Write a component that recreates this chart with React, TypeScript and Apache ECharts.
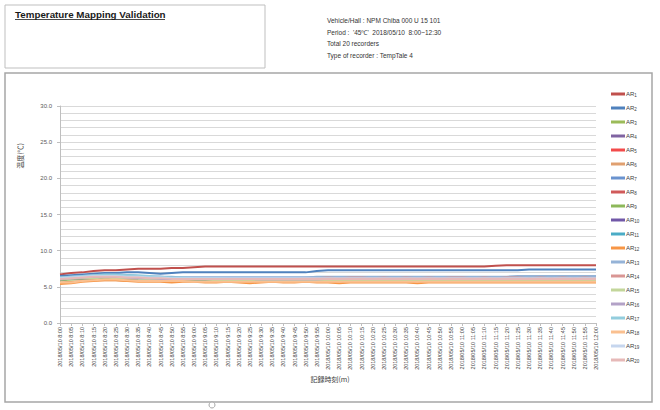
import React, { useEffect, useRef } from "react";
import * as echarts from "echarts";

const TIMES = [
  "8:00","8:05","8:10","8:15","8:20","8:25","8:30","8:35","8:40","8:45","8:50","8:55",
  "9:00","9:05","9:10","9:15","9:20","9:25","9:30","9:35","9:40","9:45","9:50","9:55",
  "10:00","10:05","10:10","10:15","10:20","10:25","10:30","10:35","10:40","10:45","10:50","10:55",
  "11:00","11:05","11:10","11:15","11:20","11:25","11:30","11:35","11:40","11:45","11:50","11:55",
  "12:00",
];
const DATE = "2018/05/10";
const CATEGORIES = TIMES.map((t) => `${DATE} ${t}`);

const AR1 = [6.7,6.9,7.0,7.2,7.3,7.3,7.4,7.5,7.5,7.5, 7.6,7.6,7.7,7.8,7.8,7.8,7.8,7.8,7.8,7.8, 7.8,7.8,7.8,7.8,7.8,7.8,7.8,7.8,7.8,7.8, 7.8,7.8,7.8,7.8,7.8,7.8,7.8,7.8,7.8,7.9, 8.0,8.0,8.0,8.0,8.0,8.0,8.0,8.0,8.0];
const AR2 = [6.5,6.6,6.7,6.8,6.9,6.9,7.0,7.0,6.9,6.8, 6.9,7.0,7.0,7.0,7.0,7.0,7.0,7.0,7.0,7.0, 7.0,7.0,7.0,7.2,7.3,7.3,7.3,7.3,7.3,7.3, 7.3,7.3,7.3,7.3,7.3,7.3,7.3,7.3,7.3,7.3, 7.3,7.3,7.4,7.4,7.4,7.4,7.4,7.4,7.4];
const AR3 = [6.1,6.2,6.3,6.3,6.4,6.4,6.3,6.3,6.2,6.2, 6.1,6.1,6.1,6.0,6.0,6.0,6.0,5.9,5.9,6.0, 6.0,6.0,5.9,5.9,6.0,6.0,6.0,6.0,6.0,6.0, 6.0,6.0,6.0,6.0,6.0,6.0,6.0,6.0,6.0,6.0, 6.0,6.0,6.0,6.0,6.0,6.0,6.0,6.0,6.0];
const AR4 = [6.0,6.1,6.2,6.3,6.3,6.3,6.2,6.2,6.1,6.1, 6.1,6.1,6.0,6.0,6.0,6.0,6.0,6.0,6.0,6.0, 6.0,6.1,6.1,6.1,6.1,6.1,6.1,6.1,6.1,6.1, 6.1,6.1,6.1,6.1,6.1,6.1,6.1,6.1,6.1,6.1, 6.1,6.1,6.1,6.1,6.1,6.1,6.1,6.1,6.1];
const AR5 = [6.2,6.3,6.4,6.5,6.5,6.5,6.4,6.3,6.3,6.2, 6.2,6.1,6.1,6.1,6.1,6.0,6.0,6.0,6.0,6.0, 6.0,6.0,6.0,6.0,6.0,6.0,6.0,6.0,6.0,6.0, 6.0,6.0,6.0,6.0,6.0,6.0,6.0,6.0,6.0,6.0, 6.0,6.0,6.0,6.0,6.0,6.0,6.0,6.0,6.0];
const AR6 = [5.6,5.7,5.8,5.9,5.9,5.9,5.8,5.8,5.8,5.8, 5.8,5.8,5.8,5.7,5.7,5.8,5.8,5.7,5.7,5.8, 5.8,5.8,5.8,5.8,5.8,5.8,5.8,5.8,5.8,5.8, 5.8,5.8,5.8,5.8,5.8,5.8,5.8,5.8,5.8,5.8, 5.8,5.8,5.8,5.8,5.8,5.8,5.8,5.8,5.8];
const AR7 = [6.3,6.4,6.5,6.6,6.7,6.7,6.6,6.5,6.4,6.4, 6.3,6.3,6.3,6.3,6.3,6.3,6.3,6.3,6.3,6.3, 6.3,6.3,6.3,6.3,6.3,6.3,6.3,6.3,6.3,6.3, 6.3,6.3,6.3,6.3,6.3,6.3,6.3,6.3,6.3,6.3, 6.3,6.3,6.3,6.3,6.3,6.3,6.3,6.3,6.3];
const AR8 = [6.0,6.1,6.2,6.2,6.2,6.2,6.1,6.1,6.1,6.0, 6.0,6.0,6.0,6.0,6.0,6.0,6.1,6.1,6.1,6.1, 6.2,6.2,6.2,6.3,6.2,6.3,6.2,6.2,6.3,6.2, 6.3,6.2,6.3,6.3,6.2,6.3,6.2,6.3,6.3,6.2, 6.3,6.2,6.3,6.2,6.3,6.3,6.2,6.3,6.3];
const AR9 = [5.9,6.0,6.1,6.2,6.2,6.2,6.1,6.0,6.0,6.0, 5.9,5.9,5.9,5.9,5.9,5.9,5.9,5.9,5.9,5.9, 5.9,5.9,5.9,5.9,5.9,5.9,5.9,5.9,5.9,5.9, 5.9,5.9,5.9,5.9,5.9,5.9,5.9,5.9,5.9,5.9, 5.9,5.9,5.9,5.9,5.9,5.9,5.9,5.9,5.9];
const AR10 = [6.0,6.1,6.2,6.2,6.3,6.3,6.2,6.1,6.1,6.1, 6.0,6.0,6.0,6.0,6.0,6.0,6.0,6.0,6.0,6.0, 6.0,6.0,6.0,6.0,6.0,6.0,6.0,6.0,6.0,6.0, 6.0,6.0,6.0,6.0,6.0,6.0,6.0,6.0,6.0,6.0, 6.0,6.0,6.0,6.0,6.0,6.0,6.0,6.0,6.0];
const AR11 = [6.2,6.3,6.4,6.5,6.6,6.6,6.6,6.5,6.4,6.3, 6.2,6.2,6.1,6.1,6.1,6.0,6.0,6.0,5.9,6.0, 6.0,6.0,6.0,6.0,6.0,6.0,6.0,6.0,6.0,6.0, 6.0,6.0,6.0,6.0,6.0,6.0,6.0,6.0,6.0,6.0, 6.0,6.0,6.0,6.0,6.0,6.0,6.0,6.0,6.0];
const AR12 = [5.4,5.5,5.7,5.8,5.9,5.9,5.8,5.7,5.7,5.7, 5.6,5.7,5.7,5.6,5.6,5.7,5.6,5.5,5.6,5.7, 5.6,5.6,5.7,5.6,5.6,5.5,5.6,5.6,5.6,5.6, 5.6,5.6,5.5,5.6,5.6,5.6,5.6,5.6,5.6,5.6, 5.6,5.6,5.6,5.6,5.6,5.6,5.6,5.6,5.6];
const AR13 = [6.3,6.4,6.5,6.6,6.6,6.6,6.6,6.5,6.4,6.4, 6.4,6.3,6.3,6.3,6.3,6.3,6.3,6.3,6.3,6.3, 6.3,6.3,6.3,6.4,6.4,6.4,6.4,6.4,6.4,6.4, 6.4,6.4,6.4,6.4,6.4,6.4,6.4,6.4,6.4,6.4, 6.4,6.5,6.5,6.5,6.5,6.5,6.5,6.5,6.5];
const AR14 = [6.1,6.2,6.3,6.3,6.4,6.3,6.2,6.2,6.1,6.1, 6.1,6.1,6.1,6.1,6.1,6.1,6.1,6.1,6.1,6.1, 6.1,6.1,6.2,6.2,6.3,6.2,6.3,6.3,6.2,6.3, 6.2,6.3,6.2,6.3,6.2,6.3,6.3,6.2,6.3,6.2, 6.3,6.3,6.2,6.3,6.2,6.3,6.2,6.3,6.2];
const AR15 = [6.0,6.1,6.2,6.2,6.3,6.2,6.2,6.1,6.1,6.0, 6.0,6.0,6.0,6.0,5.9,5.9,5.9,5.9,5.9,5.9, 5.9,5.9,5.9,5.9,5.9,5.9,5.9,5.9,5.9,5.9, 5.9,5.9,5.9,5.9,5.9,5.9,5.9,5.9,5.9,5.9, 5.9,5.9,5.9,5.9,5.9,5.9,5.9,5.9,5.9];
const AR16 = [6.1,6.2,6.3,6.4,6.4,6.4,6.3,6.2,6.2,6.1, 6.1,6.1,6.1,6.1,6.1,6.1,6.1,6.1,6.0,6.0, 6.0,6.0,6.0,6.0,6.1,6.1,6.1,6.1,6.1,6.1, 6.1,6.1,6.1,6.1,6.1,6.1,6.1,6.1,6.1,6.1, 6.1,6.1,6.1,6.1,6.1,6.1,6.1,6.1,6.1];
const AR17 = [6.3,6.4,6.5,6.6,6.7,6.7,6.6,6.6,6.5,6.4, 6.3,6.3,6.2,6.2,6.2,6.1,6.1,6.1,6.1,6.1, 6.1,6.1,6.1,6.1,6.1,6.1,6.1,6.1,6.1,6.1, 6.1,6.1,6.1,6.1,6.1,6.1,6.1,6.1,6.1,6.1, 6.1,6.1,6.1,6.1,6.1,6.1,6.1,6.1,6.1];
const AR18 = [5.6,5.6,5.8,5.9,6.0,6.0,5.9,5.8,5.8,5.8, 5.8,5.8,5.7,5.7,5.7,5.7,5.7,5.7,5.7,5.7, 5.7,5.7,5.7,5.7,5.7,5.7,5.7,5.7,5.7,5.7, 5.7,5.7,5.7,5.7,5.7,5.7,5.7,5.7,5.7,5.7, 5.7,5.7,5.7,5.7,5.7,5.7,5.7,5.7,5.7];
const AR19 = [6.2,6.3,6.4,6.5,6.5,6.5,6.4,6.4,6.3,6.3, 6.2,6.2,6.2,6.2,6.2,6.2,6.2,6.2,6.2,6.2, 6.2,6.2,6.2,6.2,6.2,6.2,6.2,6.2,6.2,6.2, 6.2,6.2,6.2,6.2,6.2,6.2,6.2,6.2,6.2,6.2, 6.2,6.2,6.2,6.2,6.2,6.2,6.2,6.2,6.2];
const AR20 = [6.1,6.2,6.3,6.4,6.4,6.4,6.3,6.3,6.2,6.2, 6.1,6.1,6.1,6.1,6.1,6.1,6.1,6.1,6.1,6.1, 6.1,6.1,6.1,6.1,6.1,6.1,6.1,6.1,6.1,6.1, 6.1,6.1,6.1,6.1,6.1,6.1,6.1,6.1,6.1,6.1, 6.1,6.1,6.1,6.1,6.1,6.1,6.1,6.1,6.1];

const SERIES_NAMES = ["AR1","AR2","AR3","AR4","AR5","AR6","AR7","AR8","AR9","AR10","AR11","AR12","AR13","AR14","AR15","AR16","AR17","AR18","AR19","AR20"];
const SERIES_VALUES = [AR1,AR2,AR3,AR4,AR5,AR6,AR7,AR8,AR9,AR10,AR11,AR12,AR13,AR14,AR15,AR16,AR17,AR18,AR19,AR20];
const COLORS = [
  "#C0504D","#4F81BD","#9BBB59","#8064A2","#F24B4B","#E0A070","#6A93CF","#D05A5A","#8DB85A","#7158A8",
  "#4BACC6","#F79646","#95B3D7","#D99694","#C3D69B","#B3A2C7","#93CDDD","#FAC090","#C6D6EE","#E6B9B8",
];

const INFO_LINES = [
  "Vehicle/Hall : NPM Chiba 000 U 15 101",
  "Period :  '45℃'  2018/05/10  8:00~12:30",
  "Total 20 recorders",
  "Type of recorder : TempTale 4",
];
const TITLE = "Temperature Mapping Validation";
const Y_NAME = "温度(℃)";
const X_NAME = "記録時刻(m)";

export default function App() {
  const ref = useRef<HTMLDivElement>(null);
  useEffect(() => {
    const chart = echarts.init(ref.current!, null, { renderer: "svg" });
    const font = "Arial, 'Liberation Sans', sans-serif";
    chart.setOption({
      animation: false,
      backgroundColor: "#ffffff",
      textStyle: { fontFamily: font },
      grid: { left: 60, right: 64, top: 106, bottom: 87, containLabel: false },
      legend: {
        orient: "vertical",
        left: 606,
        top: 85,
        icon: "rect",
        itemWidth: 14,
        itemHeight: 3,
        itemGap: 6,
        data: SERIES_NAMES,
        formatter: (name: string) => `{a|AR}{s|${name.slice(2)}}`,
        textStyle: {
          color: "#404040",
          fontSize: 6,
          lineHeight: 8,
          padding: [0, 0, 0, -4],
          rich: {
            a: { fontSize: 6, lineHeight: 8, color: "#404040" },
            s: { fontSize: 4.5, lineHeight: 8, color: "#404040", padding: [3, 0, 0, 0] },
          },
        },
      },
      xAxis: {
        type: "category",
        boundaryGap: false,
        data: CATEGORIES,
        axisLine: { lineStyle: { color: "#BFBFBF" } },
        axisTick: { show: true, interval: 0, length: 3, lineStyle: { color: "#BFBFBF" } },
        axisLabel: { rotate: 90, interval: 0, fontSize: 5.5, color: "#404040", margin: 4 },
        splitLine: { show: false },
      },
      yAxis: {
        type: "value",
        min: 0,
        max: 30,
        interval: 5,
        axisLine: { show: true, lineStyle: { color: "#BFBFBF" } },
        axisTick: { show: true, length: 3, lineStyle: { color: "#BFBFBF" } },
        axisLabel: { fontSize: 6, color: "#595959", margin: 8, formatter: (v: number) => v.toFixed(1) },
        splitLine: { lineStyle: { color: "#D9D9D9", width: 1 } },
        minorTick: { show: false, splitNumber: 5 },
        minorSplitLine: { show: true, lineStyle: { color: "#D9D9D9", width: 1 } },
      },
      series: SERIES_NAMES.map((name, i) => ({
        name,
        type: "line",
        data: SERIES_VALUES[i],
        symbol: "none",
        showSymbol: false,
        color: COLORS[i],
        lineStyle: { color: COLORS[i], width: 2 },
      })),
      graphic: [
        { type: "rect", shape: { x: 5, y: 5, width: 260, height: 63 }, style: { fill: "#fff", stroke: "#BFBFBF", lineWidth: 1 }, silent: true },
        { type: "text", x: 15, y: 9, style: { text: TITLE, fontSize: 9.8, fontWeight: "bold", fill: "#1a1a1a", fontFamily: font } },
        { type: "line", shape: { x1: 15, y1: 19.5, x2: 165, y2: 19.5 }, style: { stroke: "#1a1a1a", lineWidth: 0.8 } },
        ...INFO_LINES.map((t, i) => ({
          type: "text",
          x: 327,
          y: 17 + i * 11.5,
          style: { text: t, fontSize: 6.5, fill: "#333", fontFamily: font },
        })),
        { type: "rect", shape: { x: 5, y: 73, width: 647, height: 329 }, style: { fill: "none", stroke: "#A6A6A6", lineWidth: 1.5 }, silent: true, z: -1 },
        {
          type: "text",
          x: 20,
          y: 156,
          rotation: Math.PI / 2,
          style: { text: Y_NAME, fontSize: 7, fill: "#404040", align: "center", verticalAlign: "middle", fontFamily: "'Noto Sans CJK JP', sans-serif" },
        },
        {
          type: "text",
          x: 330,
          y: 379,
          style: { text: X_NAME, fontSize: 7, fill: "#404040", align: "center", verticalAlign: "middle", fontFamily: "'Noto Sans CJK JP', sans-serif" },
        },
        { type: "circle", shape: { cx: 212, cy: 405, r: 3 }, style: { fill: "#fff", stroke: "#A6A6A6", lineWidth: 1 } },
      ],
    });
    return () => chart.dispose();
  }, []);
  return (
    <div
      ref={ref}
      style={{ position: "absolute", left: 0, top: 0, width: 660, height: 410, background: "#fff" }}
    />
  );
}
